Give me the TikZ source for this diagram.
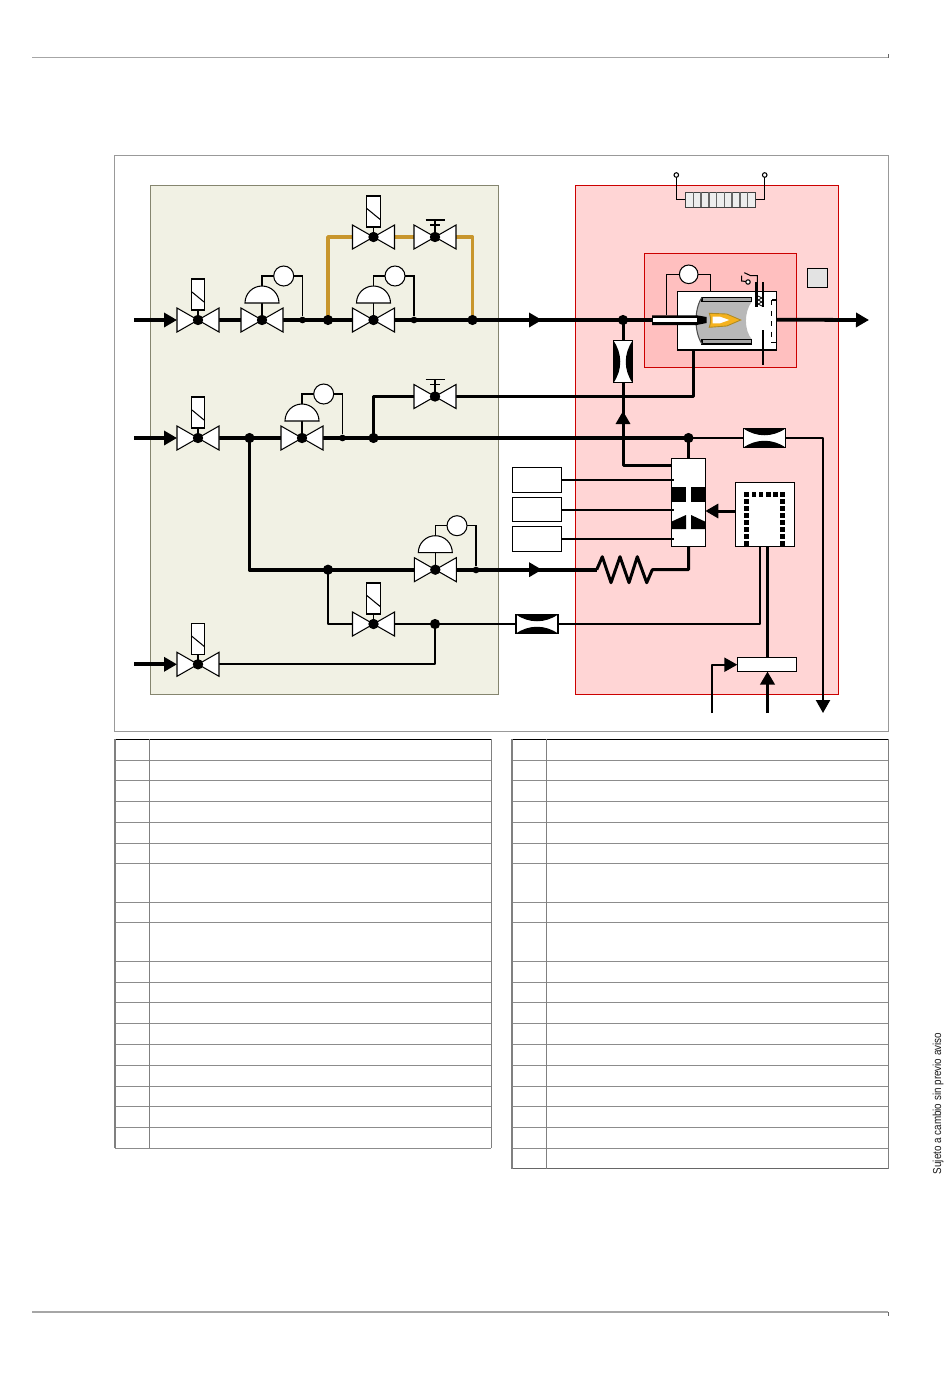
\documentclass[tikz,border=0pt]{standalone}
\usepackage{fontspec}
\setmainfont{Liberation Sans}
\usetikzlibrary{arrows.meta,calc,positioning}

\definecolor{greenbg}{HTML}{F1F1E4}
\definecolor{greenln}{HTML}{85856F}
\definecolor{redbg}{HTML}{FFD5D5}
\definecolor{redin}{HTML}{FFBFBF}
\definecolor{redln}{HTML}{CC0000}
\definecolor{goldln}{HTML}{C8962D}
\definecolor{flameln}{HTML}{B08A20}
\definecolor{flamefl}{HTML}{F5B21E}

\tikzset{
  pipe/.style={line width=2.15pt},
  midpipe/.style={line width=1.7pt},
  thinpipe/.style={line width=1.15pt},
  hair/.style={line width=0.6pt},
  frameln/.style={line width=0.45pt},
  goldpipe/.style={line width=2.15pt,color=goldln,line join=round},
  headto/.style={-{Triangle[length=7.4pt,width=8pt]}},
  bigdot/.style={circle,fill=black,inner sep=0pt,minimum size=5.8pt},
  smalldot/.style={circle,fill=black,inner sep=0pt,minimum size=3.8pt},
  whitebox/.style={draw=black,fill=white,line width=0.7pt},
  valve/.pic={
    \draw[hair,fill=white] (-21,-12)--(0,0)--(-21,12)--cycle;
    \draw[hair,fill=white] (21,-12)--(0,0)--(21,12)--cycle;
    \fill (0,0) circle[radius=5.2];
  },
  solvalve/.pic={
    \draw[hair] (0,-10)--(0,0);
    \draw[hair,fill=white] (-6.7,-41)rectangle(6.7,-10);
    \draw[hair] (-6.7,-28.5)--(6.7,-17.5);
    \pic {valve};
  },
  handvalve/.pic={
    \draw[hair] (0,-17)--(0,0);
    \draw[hair] (-9.5,-17)--(9.5,-17);
    \draw[hair] (-5,-12)--(5,-12);
    \pic {valve};
  },
  domevalve/.pic={
    \draw[hair] (0,-17)--(0,0);
    \draw[hair,fill=white] (-17,-17) arc[start angle=180,end angle=360,radius=17] --cycle;
    \pic {valve};
  },
  orifice/.pic={
    \draw[whitebox] (-21,-9.5)rectangle(21,9.5);
    \fill (-21,-9.5) .. controls (-8,-0.5) and (8,-0.5) .. (21,-9.5)--cycle;
    \fill (-21,9.5) .. controls (-8,0.5) and (8,0.5) .. (21,9.5)--cycle;
  },
}

\begin{document}
\begin{tikzpicture}[x=0.02cm,y=-0.02cm]
\useasboundingbox (0,0) rectangle (950,1379);
% page rules
\draw[line width=0.8pt,color=black!35] (32,57.5)--(888,57.5);
\draw[line width=0.8pt,color=black!35] (32,1312)--(888,1312);
\draw[frameln,color=black!60] (888,54)--(888,58);
\draw[frameln,color=black!60] (888,1312)--(888,1316);
\node[rotate=90,xscale=0.85,font=\fontsize{6.6}{8}\selectfont,color=black!90] (notice) at (938,1103.5) {Sujeto a cambio sin previo aviso};
% frame and zones
\draw[frameln,color=black!40] (114,155) rectangle (888,731);
\draw[frameln,draw=greenln,fill=greenbg] (150,185) rectangle (498,694);
\draw[hair,draw=redln,fill=redbg] (575.3,185.3) rectangle (838.7,694.3);
\draw[hair,draw=redln,fill=redin] (644.3,253.3) rectangle (796.3,367.3);
\draw[hair,fill=black!11] (807.3,268.3) rectangle (827.7,287.3);

% first line
\coordinate (in1) at (134,320);
\coordinate (v1) at (198,320);
\coordinate (v2) at (262,320);
\coordinate (v3) at (373.5,320);
\coordinate (flow1) at (542,320);
\coordinate (tube) at (652,320);
\coordinate (v4) at (373.5,237);
\coordinate (v5) at (435,237);
% second line
\coordinate (in2) at (134,438);
\coordinate (v6) at (198,438);
\coordinate (v7) at (302,438);
\coordinate (v8) at (435,396.5);
\coordinate (burnin) at (693.5,350);
% third line
\coordinate (v9) at (435.3,569.7);
\coordinate (v10) at (373.5,624);
\coordinate (in3) at (134,664.3);
\coordinate (v11) at (198,664.3);
\coordinate (flow2) at (542,569.7);
\coordinate (coilL) at (596.7,569.7);
\coordinate (coilR) at (652.3,569.7);

\coordinate (blockT) at (688.5,458.7);
\coordinate (blockB) at (688.5,546.3);
\coordinate (blockS) at (671.3,465.7);
\coordinate (blockR) at (705.3,511);
\coordinate (ctlL) at (735.3,511);
\coordinate (ctlB) at (767.5,546.3);
\coordinate (regT) at (767.5,657.3);
\coordinate (out) at (869,320);
\coordinate (drain) at (823,713);
\coordinate (bypass) at (623,465.7);

% pipes
\draw[pipe] (v1)--(tube);
\draw[goldpipe] (328,320)--(328,237)--(472.5,237)--(472.5,320);
\draw[pipe] (v6)--(688.5,438);
\draw[midpipe,line join=round] (373.5,438)--(373.5,396.5)--(v8);
\draw[midpipe,line join=round] (v8)--(burnin|-v8)--(burnin);
\draw[pipe,line join=round] (249.5,438)--(249.5,569.7)--(v9);
\draw[pipe] (v9)--(coilL);
\draw[midpipe,line join=round] (coilL)--(602.3,556.7)--(611,582.7)--(620,556.7)--(629,582.7)--(637.3,556.7)--(646.7,582.7)--(coilR)--(blockB|-coilR)--(blockB);
\draw[thinpipe,line join=round] (328,569.7)--(328,624)--(v10)--(435,624);
\draw[thinpipe] (435,624)--(516.3,624);
\draw[thinpipe,line join=round] (557.7,624)--(760,624)--(760,546.3);
\draw[thinpipe,line join=round] (v11)--(435,664.3)--(435,624);
\draw[midpipe] (623,320)--(623,382);
\draw[midpipe,line join=round,headto] (blockS)--(bypass)--(623,411);
\draw[midpipe] (623,382)--(623,420);
\draw[midpipe] (688.5,438)--(blockT);
\draw[thinpipe] (688.5,438)--(743.3,438);
\draw[thinpipe,headto,line join=round] (785.7,438)--(drain|-785.7,438)--(drain);
\draw[pipe,headto] (in1)--(177,320);
\draw[pipe,headto] (in2)--(177,438);
\draw[pipe,headto] (in3)--(177,664.3);
\draw[pipe,headto] (529,320)--(flow1);
\draw[pipe,headto] (529,569.7)--(flow2);
\draw[pipe,headto] (776,319.7)--(out);
\draw[midpipe,headto] (ctlL)--(blockR);
\draw[midpipe] (ctlB)--(regT);
\draw[pipe,headto] (767.5,713)--(767.5,671.5);
\draw[thinpipe,headto,line join=round] (711.7,713)--(711.7,664.7)--(737.3,664.7);

\node[bigdot] (j1) at (328,320) {};
\node[bigdot] (j2) at (472.5,320) {};
\node[bigdot] (j3) at (623,320) {};
\node[bigdot] (j4) at (249.5,438) {};
\node[bigdot] (j5) at (373.5,438) {};
\node[bigdot] (j6) at (688.5,438) {};
\node[bigdot] (j7) at (328,569.7) {};
\node[bigdot] (j8) at (435,624) {};
\node[smalldot] (s1) at (302.5,320) {};
\node[smalldot] (s2) at (414,320) {};
\node[smalldot] (s3) at (342.5,438) {};
\node[smalldot] (s4) at (476,570) {};

% pilot loops
\draw[hair] (262,286)--(262,276)--(302.5,276)--(s1);
\draw[fill=white,hair] (283.7,276) circle[radius=10];
\draw[hair] (373.5,286)--(373.5,276)--(414,276)--(s2);
\draw[fill=white,hair] (395,276) circle[radius=10];
\draw[hair] (302,404)--(302,394)--(342.5,394)--(s3);
\draw[fill=white,hair] (323.7,394) circle[radius=10];
\draw[hair] (435.3,535)--(435.3,525.7)--(476,525.7)--(s4);
\draw[fill=white,hair] (457,525.7) circle[radius=10];

% valves
\pic at (v1) {solvalve};
\pic at (v2) {domevalve};
\pic at (v3) {domevalve};
\pic at (v4) {solvalve};
\pic at (v5) {handvalve};
\pic at (v6) {solvalve};
\pic at (v7) {domevalve};
\pic at (v8) {handvalve};
\pic at (v9) {domevalve};
\pic at (v10) {solvalve};
\pic at (v11) {solvalve};
\pic at (764.5,438) {orifice};
\pic at (537,624) {orifice};
\pic[rotate=90] at (623,361.8) {orifice};

% gas block
\draw[whitebox] (671.3,458.7) rectangle (705.3,546.3);
\fill (671.3,487.3) rectangle (686,501.7);
\fill (691,487.3) rectangle (705.3,501.7);
\fill (671.3,521.7)--(686,515)--(686,529)--(671.3,529)--cycle;
\fill (691,515)--(705.3,521.7)--(705.3,529)--(691,529)--cycle;
\draw[whitebox] (512.3,467.3) rectangle (561.7,492.3);
\draw[whitebox] (512.3,497.3) rectangle (561.7,521.3);
\draw[whitebox] (512.3,526.3) rectangle (561.7,551.3);
\draw[thinpipe] (561.7,480)--(674,480);
\draw[thinpipe] (561.7,509.7)--(674,509.7);
\draw[thinpipe] (561.7,538.7)--(674,538.7);

% control unit
\draw[whitebox] (735.3,482.3) rectangle (794.3,546.3);
\foreach \k in {0,...,5} {\fill (744.3+7.2*\k,492.3) rectangle ++(4.7,4.7);}
\foreach \k in {1,...,7} {
  \fill (744.3,492.3+7*\k) rectangle ++(4.7,4.7);
  \fill (780.3,492.3+7*\k) rectangle ++(4.7,4.7);
}
\draw[whitebox] (737.3,657.3) rectangle (796.3,671.3);

% fan
\draw[hair] (676.3,177)--(676.3,199.3)--(685.7,199.3);
\draw[hair] (764.7,177)--(764.7,199.3)--(755.3,199.3);
\draw[hair,fill=white] (676.3,175) circle[radius=2.3];
\draw[hair,fill=white] (764.7,175) circle[radius=2.3];
\draw[line width=0.8pt,draw=black!75,fill=black!7] (685.7,192.3) rectangle (755.3,207.3);
\foreach \k in {1,...,8} {\draw[line width=0.9pt,color=black!60] (685.7+7.73*\k,192.3)--(685.7+7.73*\k,207.3);}

% burner
\draw[hair] (666.7,315)--(666.7,274.3)--(710.7,274.3)--(710.7,291.3);
\draw[hair,fill=white] (688.7,274.3) circle[radius=9.3];
\draw[whitebox] (677.3,291.3) rectangle (776.3,350);
\fill[black!28] (702,297.3)--(751.7,297.3)--(751.7,301.7) .. controls (744,312) and (744,330) .. (751.7,339.3)--(751.7,344)--(702,344) .. controls (694,332) and (694,309) .. (702,297.3)--cycle;
\draw[hair,fill=black!35] (702,297.3)--(751.7,297.3)--(751.7,301.7)--(702,301.7)--cycle;
\draw[hair,fill=black!35] (702,339.3)--(751.7,339.3)--(751.7,344)--(702,344)--cycle;
\draw[hair,color=black!70] (702,297.3) .. controls (694,309) and (694,332) .. (702,344);
\fill (652,315.3)--(696.7,315.3)--(706.7,317)--(706.7,323)--(696.7,325)--(652,325)--cycle;
\fill[white] (653,318)--(696.7,318)--(696.7,322.3)--(653,322.3)--cycle;
\draw[line width=0.5pt,draw=flameln,fill=flamefl] (709.3,313.3)--(726.7,314)--(740.7,320)--(726.7,326)--(709.3,327.3) .. controls (711,322) and (711,318) .. (709.3,313.3)--cycle;
\fill[white] (712.7,316.7)--(720,316.7)--(729.3,320)--(720,323.3)--(712.7,323.3)--cycle;
\draw[line width=1.7pt] (756.7,281.7)--(756.7,307.3);
\draw[thinpipe] (762.8,282)--(762.8,307);
\draw[thinpipe] (762.8,330)--(762.8,365);
\draw[line width=0.45pt] (758,296)--(762,298)--(758,300)--(762,302)--(758,304)--(762,306);
\draw[hair] (744.3,272.7)--(750.7,275.7)--(757.3,275.7)--(757.3,282);
\draw[hair] (741.7,275.7)--(741.7,281)--(746,281.5);
\draw[hair,fill=white] (748,282) circle[radius=2.2];
\draw[hair] (776.3,300)--(771.7,300);
\draw[hair,dashed] (771.7,300)--(771.7,342.3);
\draw[hair] (771.7,342.3)--(776.3,342.3);

% legend tables
\foreach \r in {760,780.5,801,822,843,863.5,902,922.5,961,982,1002.5,1023,1044,1065,1086,1106.5,1127.5,1148} {
  \draw[frameln,color=black!45] (115,\r)--(491,\r);
  \draw[frameln,color=black!45] (512,\r)--(888,\r);
}
\draw[frameln,color=black!60] (512,1168.5)--(888,1168.5);
\draw[frameln,color=black] (115,739)--(491,739);
\draw[frameln,color=black] (512,739)--(888,739);
\draw[hair,color=black!50] (115,739)--(115,1148);
\draw[frameln,color=black!50] (149,739)--(149,1148);
\draw[frameln,color=black!50] (491,739)--(491,1148);
\draw[hair,color=black!50] (512,739)--(512,1168.5);
\draw[frameln,color=black!50] (546,739)--(546,1168.5);
\draw[frameln,color=black!50] (888,739)--(888,1168.5);
\end{tikzpicture}
\end{document}
